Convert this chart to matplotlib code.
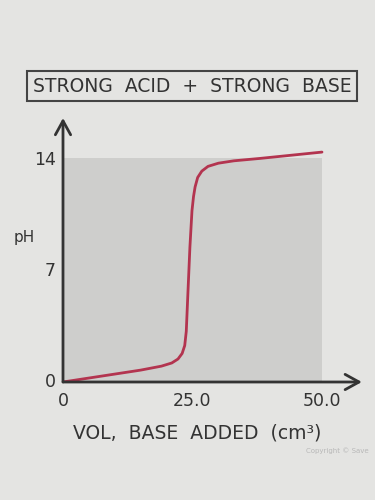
import matplotlib
matplotlib.use("Agg")
import matplotlib.pyplot as plt
from matplotlib.patches import Rectangle

# titration curve
vol = [0, 5, 10, 15, 19, 21, 22.2, 23.0, 23.5, 23.8, 24.1, 24.5, 24.9, 25.2, 25.5,
       26.0, 26.8, 28.0, 30.0, 33.0, 38.0, 44.0, 50.0]
ph = [0, 0.25, 0.5, 0.75, 1.0, 1.2, 1.45, 1.8, 2.3, 3.2, 5.5, 8.5, 10.8, 11.7, 12.3,
      12.9, 13.3, 13.6, 13.8, 13.95, 14.1, 14.3, 14.5]

x_ticks = [0, 25, 50]
x_tick_labels = ["0", "25.0", "50.0"]
y_ticks = [0, 7, 14]
y_tick_labels = ["0", "7", "14"]

paper = "#e4e4e2"
ink = "#333333"

fig = plt.figure(figsize=(3.75, 5), dpi=100, facecolor=paper)
ax = fig.add_axes([0.168, 0.236, 0.797, 0.528])
ax.set_facecolor(paper)
ax.set_xlim(0, 57.7)
ax.set_ylim(0, 16.65)

# grey panel behind the curve
ax.add_patch(Rectangle((0, 0), 50, 14.1, facecolor="#cececc", edgecolor="none", zorder=0))

ax.plot(vol, ph, color="#b3344f", lw=2.0, solid_capstyle="round", zorder=3)

for s in ax.spines.values():
    s.set_visible(False)
ax.set_xticks([])
ax.set_yticks([])

# axes with arrow heads
arrow = dict(arrowstyle="->,head_length=1.0,head_width=0.55", color=ink, lw=2.0,
             shrinkA=0, shrinkB=0)
ax.annotate("", xy=(57.7, 0), xytext=(0, 0), xycoords="data", arrowprops=arrow,
            annotation_clip=False, zorder=4)
ax.annotate("", xy=(0, 16.65), xytext=(0, 0), xycoords="data", arrowprops=arrow,
            annotation_clip=False, zorder=4)

for v, lab in zip(x_ticks, x_tick_labels):
    ax.text(v, -0.6, lab, ha="center", va="top", fontsize=12.5, color=ink)
for v, lab in zip(y_ticks, y_tick_labels):
    ax.text(-1.4, v, lab, ha="right", va="center", fontsize=12.5, color=ink)

ax.text(-7.5, 9.1, "pH", ha="center", va="center", fontsize=11, color=ink)
ax.text(26, -2.6, "VOL,  BASE  ADDED  (cm³)", ha="center", va="top", fontsize=13.5, color=ink)

fig.text(0.512, 0.828, "STRONG  ACID  +  STRONG  BASE", ha="center", va="center",
         fontsize=13.5, color=ink,
         bbox=dict(boxstyle="square,pad=0.3", facecolor=paper, edgecolor="#444444", lw=1.5))

fig.text(0.815, 0.099, "Copyright © Save", fontsize=5, color="#b8b8b8", ha="left", va="center")

fig.savefig("out.png", dpi=100, facecolor=paper)
